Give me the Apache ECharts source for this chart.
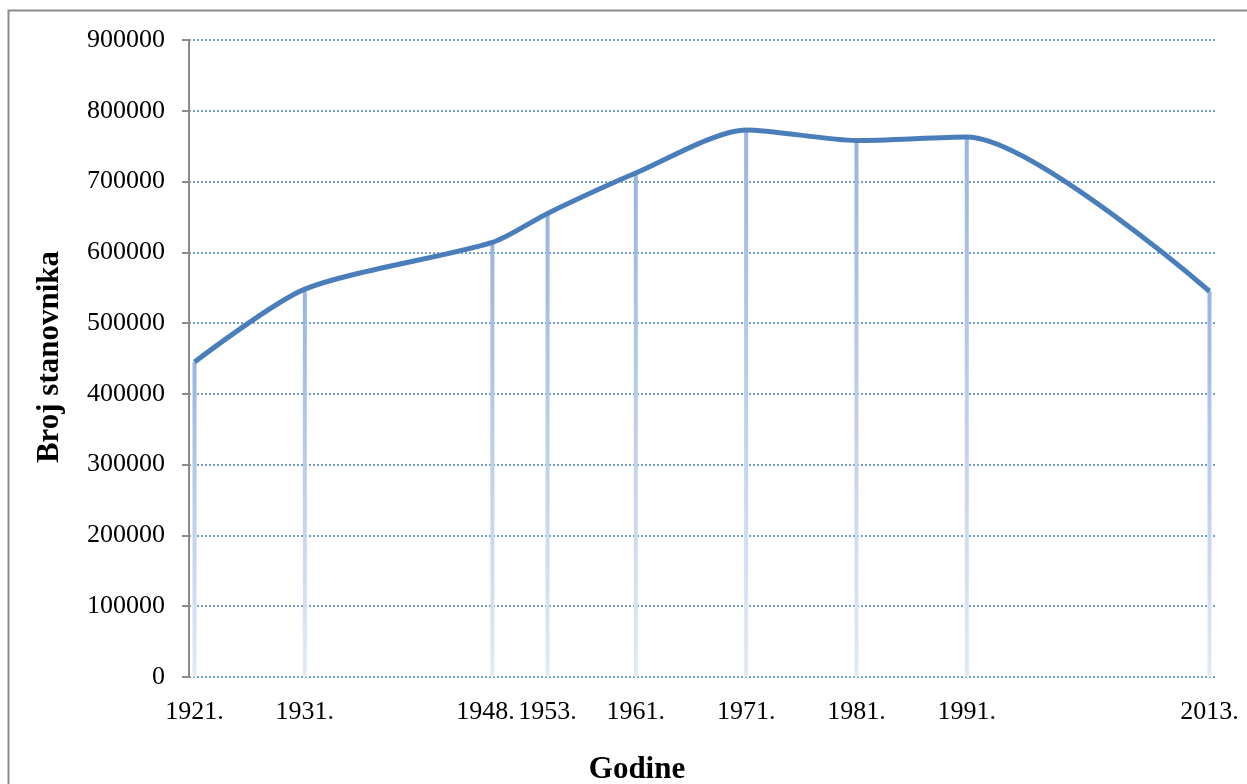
<!DOCTYPE html>
<html><head><meta charset="utf-8">
<script src="https://cdn.jsdelivr.net/npm/echarts@6/dist/echarts.min.js"></script>
<style>html,body{margin:0;padding:0;background:#fff}#c{width:1247px;height:784px}</style>
</head><body><div id="c"></div>
<script>
const years = [1921, 1931, 1948, 1953, 1961, 1971, 1981, 1991, 2013];
const population = [445000, 548000, 614000, 655000, 712000, 773000, 758000, 763000, 545000];
const yTicks = [0, 100000, 200000, 300000, 400000, 500000, 600000, 700000, 800000, 900000];
const xTitle = 'Godine';
const yTitle = 'Broj stanovnika';

const pts = years.map((y, i) => [y, population[i]]);
const chart = echarts.init(document.getElementById('c'), null, {renderer: 'canvas'});
const font = '"Liberation Serif", "Times New Roman", serif';
chart.setOption({
  animation: false,
  backgroundColor: '#fff',
  graphic: [
    {type: 'rect', shape: {x: 8.5, y: 10.5, width: 1260, height: 800},
      style: {fill: 'none', stroke: '#8c8c8c', lineWidth: 2}},
    {type: 'text', x: 637, y: 770, style: {text: xTitle, font: 'bold 31px ' + font,
      fill: '#000', align: 'center', verticalAlign: 'middle'}},
    {type: 'text', x: 50, y: 357, rotation: Math.PI / 2, style: {text: yTitle,
      font: 'bold 31px ' + font, fill: '#000', align: 'center', verticalAlign: 'middle'}}
  ],
  grid: {left: 189, right: 32, top: 40, bottom: 107},
  xAxis: {
    type: 'value', min: 1920.5, max: 2013.5,
    axisLine: {show: false}, axisTick: {show: false}, splitLine: {show: false},
    axisLabel: {customValues: years, hideOverlap: false, margin: 22,
      formatter: v => v === 1948 ? '{l|' + v + '.}' : v + '.',
      rich: {l: {fontFamily: font, fontSize: 26, color: '#000', padding: [0, 14, 0, 0]}},
      fontFamily: font, fontSize: 26, color: '#000'}
  },
  yAxis: {
    type: 'value', min: 0, max: 900000, interval: 100000,
    axisLine: {show: true, lineStyle: {color: '#8c8c8c', width: 2}},
    axisTick: {show: true, inside: false, length: 7, lineStyle: {color: '#8c8c8c', width: 2}},
    axisLabel: {margin: 24, fontFamily: font, fontSize: 26, color: '#000',
      formatter: v => String(v)},
    splitLine: {show: true, lineStyle: {color: '#4a7ebb', type: [2, 2], width: 1.5}}
  },
  series: [
    {type: 'bar', data: pts, barWidth: 4, z: 2,
      itemStyle: {color: new echarts.graphic.LinearGradient(0, 0, 0, 1,
        [{offset: 0, color: '#98b4e2'}, {offset: 1, color: '#e2eaf6'}])}},
    {type: 'line', data: pts, smooth: 0.25, symbol: 'none', z: 3,
      lineStyle: {color: '#4a7ebb', width: 5}}
  ]
});
</script></body></html>
